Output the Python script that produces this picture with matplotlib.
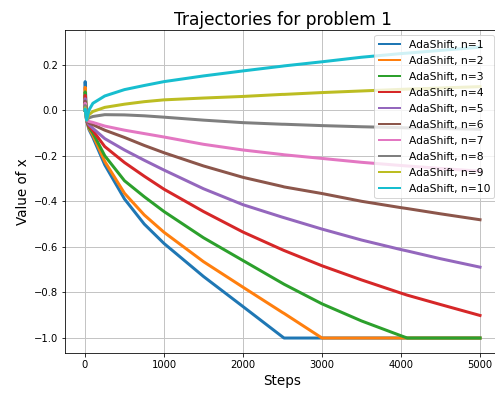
import matplotlib
matplotlib.use("Agg")
import matplotlib.pyplot as plt

steps = [0, 2, 20, 50, 100, 250, 500, 750, 1000, 1500, 2000, 2500, 2520,
         3000, 3500, 4000, 4080, 4500, 5000]

n1 = [0, 0.125, -0.044, -0.085, -0.12, -0.24, -0.39, -0.50, -0.585, -0.73,
      -0.862, -0.995, -1.0, -1.0, -1.0, -1.0, -1.0, -1.0, -1.0]
n2 = [0, 0.10, -0.044, -0.08, -0.11, -0.225, -0.365, -0.46, -0.536, -0.665,
      -0.777, -0.888, -0.892, -1.0, -1.0, -1.0, -1.0, -1.0, -1.0]
n3 = [0, 0.08, -0.044, -0.075, -0.10, -0.20, -0.31, -0.38, -0.445, -0.56,
      -0.66, -0.76, -0.764, -0.85, -0.925, -0.99, -1.0, -1.0, -1.0]
n4 = [0, 0.065, -0.044, -0.07, -0.09, -0.16, -0.23, -0.29, -0.347, -0.445,
      -0.535, -0.613, -0.616, -0.683, -0.745, -0.803, -0.812, -0.853, -0.901]
n5 = [0, 0.05, -0.044, -0.064, -0.08, -0.125, -0.175, -0.22, -0.263, -0.345,
      -0.415, -0.47, -0.472, -0.522, -0.57, -0.612, -0.618, -0.652, -0.689]
n6 = [0, 0.04, -0.044, -0.056, -0.064, -0.088, -0.12, -0.155, -0.187, -0.245,
      -0.295, -0.335, -0.337, -0.366, -0.40, -0.428, -0.432, -0.455, -0.481]
n7 = [0, 0.03, -0.044, -0.05, -0.054, -0.07, -0.088, -0.103, -0.118, -0.15,
      -0.175, -0.195, -0.196, -0.212, -0.229, -0.243, -0.245, -0.256, -0.268]
n8 = [0, 0.02, -0.044, -0.034, -0.028, -0.02, -0.021, -0.025, -0.031, -0.044,
      -0.055, -0.062, -0.062, -0.068, -0.073, -0.077, -0.078, -0.081, -0.084]
n9 = [0, 0.01, -0.044, -0.02, -0.006, 0.012, 0.026, 0.037, 0.045, 0.053,
      0.06, 0.069, 0.069, 0.077, 0.084, 0.091, 0.092, 0.097, 0.103]
n10 = [0, 0.005, -0.044, 0.0, 0.03, 0.062, 0.09, 0.108, 0.125, 0.15,
       0.172, 0.193, 0.194, 0.212, 0.232, 0.248, 0.25, 0.262, 0.276]

series = [n1, n2, n3, n4, n5, n6, n7, n8, n9, n10]
labels = [f"AdaShift, n={i}" for i in range(1, 11)]

fig = plt.figure(figsize=(495 / 72, 394 / 72), dpi=72)
ax = fig.add_axes([65.25 / 495, 41.5 / 394, 434.5 / 495, 322.5 / 394])

for vals, lab in zip(series, labels):
    ax.plot(steps, vals, lw=3, label=lab)

ax.set_xlim(-250, 5250)
ax.set_ylim(-1.0635, 0.3515)
ax.grid(True, color="#c4c4c4", lw=1.0)
ax.set_title("Trajectories for problem 1", fontsize=17, pad=5)
ax.set_xlabel("Steps", fontsize=13.5)
ax.set_ylabel("Value of x", fontsize=13.5)
ax.set_xticks([0, 1000, 2000, 3000, 4000, 5000])
leg = ax.legend(loc="upper right", fontsize=10.7, labelspacing=0.56)
for h in leg.get_lines():
    h.set_linewidth(2)

fig.savefig("out.png", dpi=72)
